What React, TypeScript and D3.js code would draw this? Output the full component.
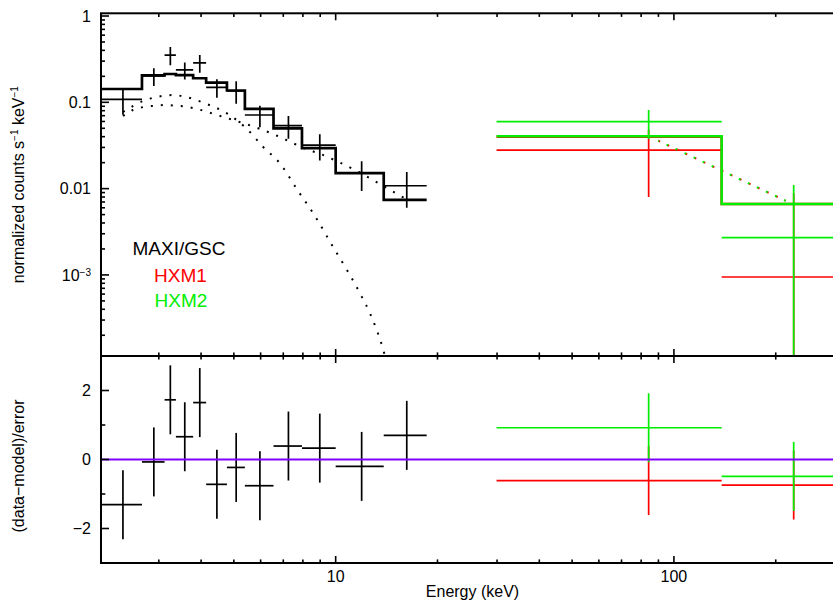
import React from "react";
import * as d3 from "d3";

// ---------- MAXI/GSC (black) ----------
const gscLo = [2.02, 2.675, 3.12, 3.37, 3.79, 4.14, 4.77, 5.39, 6.55, 7.95, 10.0, 13.87];
const gscHi = [2.675, 3.12, 3.37, 3.79, 4.14, 4.77, 5.39, 6.55, 7.95, 10.0, 13.87, 18.58];
const gscE = [2.35, 2.9, 3.245, 3.58, 3.965, 4.455, 5.08, 5.97, 7.25, 8.975, 11.935, 16.225];
const gscRate = [0.108, 0.2017, 0.353, 0.237, 0.287, 0.149, 0.136, 0.0713, 0.0536, 0.032, 0.0151, 0.0108];
const gscErr = [0.036, 0.047, 0.085, 0.053, 0.067, 0.036, 0.04, 0.02, 0.0157, 0.0108, 0.0057, 0.0048];
const gscModel = [0.1426, 0.205, 0.213, 0.207, 0.19, 0.169, 0.137, 0.084, 0.0498, 0.0294, 0.0151, 0.0074];
const gscResid = [-1.31, -0.07, 1.73, 0.66, 1.65, -0.72, -0.23, -0.76, 0.39, 0.33, -0.2, 0.7];
const gscResidErr = [1, 1, 1, 1, 1, 1, 1, 1, 1, 1, 1, 1];

// ---------- HXM bins ----------
const hxmLo = [29.9, 138.4];
const hxmHi = [138.4, 314];
const hxmE = [84.2, 226];
// HXM1 (red)
const hxm1Rate = [0.028, 0.000946];
const hxm1Err = [0.02, 0.0079];
const hxm1Model = [0.0398, 0.00663];
const hxm1Resid = [-0.61, -0.74];
// HXM2 (green)
const hxm2Rate = [0.0596, 0.0027];
const hxm2Err = [0.022, 0.0083];
const hxm2Model = [0.0404, 0.00663];
const hxm2Resid = [0.92, -0.49];
const hxmResidErr = [1, 1];

// ---------- model components (dotted) ----------
const diskE = [2.351, 2.694, 3.066, 3.304, 3.585, 4.108, 4.804, 5.505, 6.097, 6.844, 7.684, 8.686, 9.817, 10.8, 11.8, 12.63, 13.83, 13.99];
const diskV = [0.0772, 0.1035, 0.1183, 0.1215, 0.1161, 0.0974, 0.0732, 0.0478, 0.0306, 0.0196, 0.00982, 0.00481, 0.00212, 0.00114, 0.000612, 0.000359, 0.000135, 0.000115];
const plE = [2.351, 2.516, 2.731, 2.924, 3.129, 3.395, 3.634, 3.89, 4.164, 4.459, 4.707, 4.97, 5.284, 6.707, 7.228, 8.228, 8.927, 10.16, 11.56, 13.16, 14.97, 16.03];
const plV = [0.0694, 0.0814, 0.0889, 0.0913, 0.093, 0.0913, 0.0889, 0.0836, 0.0778, 0.0712, 0.067, 0.0624, 0.058, 0.041, 0.0359, 0.0285, 0.0256, 0.0205, 0.016, 0.012, 0.00896, 0.00772];
const hxmPlE = [89.9, 213.8];
const hxmPlV = [0.0359, 0.00724];

// ---------- axes ----------
const xMajor = [10, 100];
const xMajorLabels = ["10", "100"];
const yTopMajor = [1, 0.1, 0.01, 0.001];
const yTopLabels = ["1", "0.1", "0.01", "10|−3"];
const yBotMajor = [-2, 0, 2];
const yBotMinor = [-1, 1];
const yBotLabels = ["−2", "0", "2"];

const legendNames = ["MAXI/GSC", "HXM1", "HXM2"];
const BLACK = "#000";
const RED = "#ff0000";
const GREEN = "#00ee00";
const PURPLE = "#8000ff";
const FONT = "'Liberation Sans', Arial, Helvetica, sans-serif";

export default function App() {
  const L = 101, R = 842, T = 13.3, M = 356, B = 563;
  const x = d3.scaleLog().domain([2.024, 314]).range([L, R]);
  const yT = d3.scaleLog().domain([1.15e-4, 1.075]).range([M, T]);
  const yB = d3.scaleLinear().domain([-3, 3]).range([B, M]);
  const yMinT = yT.domain()[0] * 0.5;

  const xTicks = x.ticks();
  const yTicks = yT.ticks();
  const isMajorX = (v: number) => xMajor.some((m) => Math.abs(m - v) / m < 1e-6);
  const isMajorY = (v: number) => yTopMajor.some((m) => Math.abs(m - v) / m < 1e-6);

  const stepPts = (lo: number[], hi: number[], m: number[]) => {
    const pts: [number, number][] = [];
    lo.forEach((l, i) => {
      pts.push([l, m[i]]);
      pts.push([hi[i], m[i]]);
    });
    return pts;
  };
  const lineT = d3
    .line<[number, number]>()
    .x((d) => x(d[0]))
    .y((d) => yT(d[1]));
  const curveT = d3
    .line<[number, number]>()
    .x((d) => x(d[0]))
    .y((d) => yT(d[1]))
    .curve(d3.curveMonotoneX);

  const crossesTop = (
    lo: number[], hi: number[], e: number[], v: number[], err: number[], color: string, key: string
  ) =>
    v.map((val, i) => {
      const low = val - err[i] > 0 ? val - err[i] : yMinT;
      return (
        <g key={key + i} stroke={color} strokeWidth={1.7}>
          <line x1={x(lo[i])} x2={x(hi[i])} y1={yT(val)} y2={yT(val)} />
          <line x1={x(e[i])} x2={x(e[i])} y1={yT(val + err[i])} y2={yT(low)} />
        </g>
      );
    });
  const crossesBot = (
    lo: number[], hi: number[], e: number[], r: number[], err: number[], color: string, key: string
  ) =>
    r.map((val, i) => (
      <g key={key + i} stroke={color} strokeWidth={1.7}>
        <line x1={x(lo[i])} x2={x(hi[i])} y1={yB(val)} y2={yB(val)} />
        <line x1={x(e[i])} x2={x(e[i])} y1={yB(val + err[i])} y2={yB(val - err[i])} />
      </g>
    ));

  const zip = (a: number[], b: number[]) => a.map((v, i) => [v, b[i]] as [number, number]);

  return (
    <svg
      width={833}
      height={601}
      style={{ position: "fixed", left: 0, top: 0, background: "#fff" }}
      fontFamily={FONT}
    >
      <defs>
        <clipPath id="clipTop">
          <rect x={L} y={T} width={R - L} height={M - T} />
        </clipPath>
        <clipPath id="clipBot">
          <rect x={L} y={M} width={R - L} height={B - M} />
        </clipPath>
      </defs>
      <rect x={0} y={0} width={833} height={601} fill="#fff" />

      {/* ---------- top panel ---------- */}
      <g clipPath="url(#clipTop)" fill="none">
        <path d={curveT(zip(diskE, diskV)) || ""} stroke={BLACK} strokeWidth={2} strokeDasharray="2 8" />
        <path d={curveT(zip(plE, plV)) || ""} stroke={BLACK} strokeWidth={2} strokeDasharray="2 8" />
        {crossesTop(gscLo, gscHi, gscE, gscRate, gscErr, BLACK, "g")}
        <path d={lineT(stepPts(gscLo, gscHi, gscModel)) || ""} stroke={BLACK} strokeWidth={2.7} />
        {crossesTop(hxmLo, hxmHi, hxmE, hxm1Rate, hxm1Err, RED, "r")}
        <path d={lineT(stepPts(hxmLo, hxmHi, hxm1Model)) || ""} stroke={RED} strokeWidth={2.5} />
        <path d={lineT(zip(hxmPlE, hxmPlV)) || ""} stroke={RED} strokeWidth={2} strokeDasharray="2 8" />
        {crossesTop(hxmLo, hxmHi, hxmE, hxm2Rate, hxm2Err, GREEN, "gr")}
        <path d={lineT(stepPts(hxmLo, hxmHi, hxm2Model)) || ""} stroke={GREEN} strokeWidth={2.5} />
        <path d={lineT(zip(hxmPlE, hxmPlV)) || ""} stroke={GREEN} strokeWidth={2} strokeDasharray="2 8" strokeDashoffset={1} />
      </g>

      {/* ---------- bottom panel ---------- */}
      <g clipPath="url(#clipBot)" fill="none">
        {crossesBot(gscLo, gscHi, gscE, gscResid, gscResidErr, BLACK, "bg")}
        {crossesBot(hxmLo, hxmHi, hxmE, hxm1Resid, hxmResidErr, RED, "br")}
        {crossesBot(hxmLo, hxmHi, hxmE, hxm2Resid, hxmResidErr, GREEN, "bgr")}
        <line x1={L} x2={R} y1={yB(0)} y2={yB(0)} stroke={PURPLE} strokeWidth={2} />
      </g>

      {/* ---------- frames & ticks ---------- */}
      <g stroke={BLACK} strokeWidth={1.6} fill="none">
        {xTicks.map((v, i) => {
          const len = isMajorX(v) ? 7 : 3.6;
          const px = x(v);
          return (
            <g key={"xt" + i}>
              <line x1={px} x2={px} y1={T} y2={T + len} />
              <line x1={px} x2={px} y1={M} y2={M - len} />
              <line x1={px} x2={px} y1={M} y2={M + len} />
              <line x1={px} x2={px} y1={B} y2={B - len} />
            </g>
          );
        })}
        {yTicks.map((v, i) => {
          const len = isMajorY(v) ? 8 : 4;
          const py = yT(v);
          return <line key={"yt" + i} x1={L} x2={L + len} y1={py} y2={py} />;
        })}
        {yBotMajor.map((v, i) => (
          <line key={"ybM" + i} x1={L} x2={L + 8} y1={yB(v)} y2={yB(v)} />
        ))}
        {yBotMinor.map((v, i) => (
          <line key={"ybm" + i} x1={L} x2={L + 4.3} y1={yB(v)} y2={yB(v)} />
        ))}
      </g>
      <g stroke={BLACK} strokeWidth={2} fill="none">
        <rect x={L} y={T} width={R - L} height={M - T} />
        <rect x={L} y={M} width={R - L} height={B - M} />
      </g>

      {/* ---------- tick labels ---------- */}
      <g fontSize={16} fill={BLACK} textAnchor="end">
        {yTopMajor.map((v, i) => {
          const parts = yTopLabels[i].split("|");
          return (
            <text key={"ytl" + i} x={91} y={yT(v)} dy="0.35em">
              {parts[0]}
              {parts.length > 1 && (
                <tspan fontSize={10} dy={-5}>
                  {parts[1]}
                </tspan>
              )}
            </text>
          );
        })}
        {yBotMajor.map((v, i) => (
          <text key={"ybl" + i} x={91} y={yB(v)} dy="0.35em">
            {yBotLabels[i]}
          </text>
        ))}
      </g>
      <g fontSize={16} fill={BLACK} textAnchor="middle">
        {xMajor.map((v, i) => (
          <text key={"xl" + i} x={x(v)} y={582}>
            {xMajorLabels[i]}
          </text>
        ))}
        <text x={(L + R) / 2 + 1} y={597}>
          Energy (keV)
        </text>
        <text transform={`translate(24,${(T + M) / 2}) rotate(-90)`}>
          normalized counts s
          <tspan fontSize={10} dy={-6}>−1</tspan>
          <tspan dy={6}> keV</tspan>
          <tspan fontSize={10} dy={-6}>−1</tspan>
        </text>
        <text transform={`translate(24,466) rotate(-90)`}>(data−model)/error</text>
      </g>

      {/* ---------- legend ---------- */}
      <g fontSize={19} textAnchor="middle">
        <text x={179} y={248} dy="0.35em" fill={BLACK}>
          {legendNames[0]}
        </text>
        <text x={180.5} y={275} dy="0.35em" fill={RED}>
          {legendNames[1]}
        </text>
        <text x={181} y={300} dy="0.35em" fill={GREEN}>
          {legendNames[2]}
        </text>
      </g>
    </svg>
  );
}
